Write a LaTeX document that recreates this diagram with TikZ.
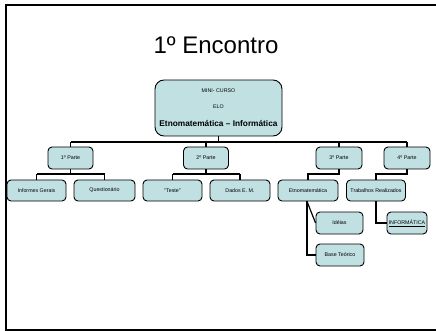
\documentclass[tikz,border=0pt]{standalone}
\usepackage{fontspec}
\setmainfont{Liberation Sans}
\usetikzlibrary{calc}
\definecolor{boxfill}{RGB}{192,224,226}
\tikzset{
  x=1pt, y=-1pt,
  orgbox/.style={draw=black, line width=0.9pt, fill=boxfill, rounded corners=4pt,
    minimum height=22pt, inner sep=0pt, font=\fontsize{5.3}{6}\selectfont},
  rootbox/.style={draw=black, line width=0.9pt, fill=boxfill, rounded corners=9pt,
    minimum width=127pt, minimum height=56pt, inner sep=0pt},
  conn/.style={draw=black, line width=1.2pt},
  smalltxt/.style={font=\fontsize{5.3}{6}\selectfont, inner sep=0pt},
}
\begin{document}
\begin{tikzpicture}
\useasboundingbox (0,0) rectangle (436,331);
% frame
\draw[line width=2pt] (437,5.5) -- (6,5.5) -- (6,329.5) -- (437,329.5);
% title
\node[font=\fontsize{24}{28}\selectfont, inner sep=0pt] (title) at (216,45) {1º Encontro};
% root
\node[rootbox] (root) at (218.5,108) {};
\node[smalltxt] (rl1) at ($(root.center)+(0,-17)$) {MINI- CURSO};
\node[smalltxt] (rl2) at ($(root.center)+(0,-1)$) {ELO};
\node[font=\bfseries\fontsize{8.3}{10}\selectfont, inner sep=0pt] (rl3) at ($(root.center)+(0,15)$) {Etnomatemática – Informática};
% level 1
\node[orgbox, minimum width=45pt] (p1) at (70.5,158) {1º Parte};
\node[orgbox, minimum width=45pt] (p2) at (206,158) {2º Parte};
\node[orgbox, minimum width=46pt] (p3) at (339,158) {3º Parte};
\node[orgbox, minimum width=46pt] (p4) at (407,158) {4º Parte};
% level 2
\node[orgbox, minimum width=59pt, minimum height=21pt] (ig) at (36.5,190.5) {Informes Gerais};
\node[orgbox, minimum width=61pt, minimum height=21pt] (qu) at (104.5,190.5) {Questionário};
\node[orgbox, minimum width=59pt, minimum height=21pt] (te) at (172.5,190.5) {"Teste"};
\node[orgbox, minimum width=60pt, minimum height=21pt] (de) at (240,190.5) {Dados E. M.};
\node[orgbox, minimum width=60pt, minimum height=21pt] (et) at (308,190.5) {Etnomatemática};
\node[orgbox, minimum width=59pt, minimum height=21pt] (tr) at (376,190.5) {Trabalhos Realizados};
% level 3
\node[orgbox, minimum width=47pt] (id) at (339.5,223) {Idéias};
\node[orgbox, minimum width=48pt] (bt) at (340,255) {Base Teórico};
\node[orgbox, minimum width=40pt] (inf) at (407,223) {\underline{INFORMÁTICA}};
% connectors
\coordinate (bar1) at (0,142);
\coordinate (bar2) at (0,174);
\draw[conn] (root.south) -- (root.south |- bar1);
\draw[conn] (p1.north |- bar1) -- (p4.north |- bar1);
\foreach \n in {p1,p2,p3,p4} \draw[conn] (\n.north) -- (\n.north |- bar1);
\draw[conn] (p1.south) -- (p1.south |- bar2);
\draw[conn] (ig.north |- bar2) -- (qu.north |- bar2);
\draw[conn] (ig.north) -- (ig.north |- bar2);
\draw[conn] (qu.north) -- (qu.north |- bar2);
\draw[conn] (p2.south) -- (p2.south |- bar2);
\draw[conn] (te.north |- bar2) -- (de.north |- bar2);
\draw[conn] (te.north) -- (te.north |- bar2);
\draw[conn] (de.north) -- (de.north |- bar2);
\draw[conn] (p3.south) |- (et.north |- bar2) -- (et.north);
\draw[conn] (p4.south) |- (tr.north |- bar2) -- (tr.north);
\draw[conn] ($(et.south)+(-1,0)$) |- (bt.west);
\draw[conn] ($(et.south)+(-1,0)$ |- id.west) -- (id.west);
\draw[conn] (tr.south) |- (inf.west);
\end{tikzpicture}
\end{document}
